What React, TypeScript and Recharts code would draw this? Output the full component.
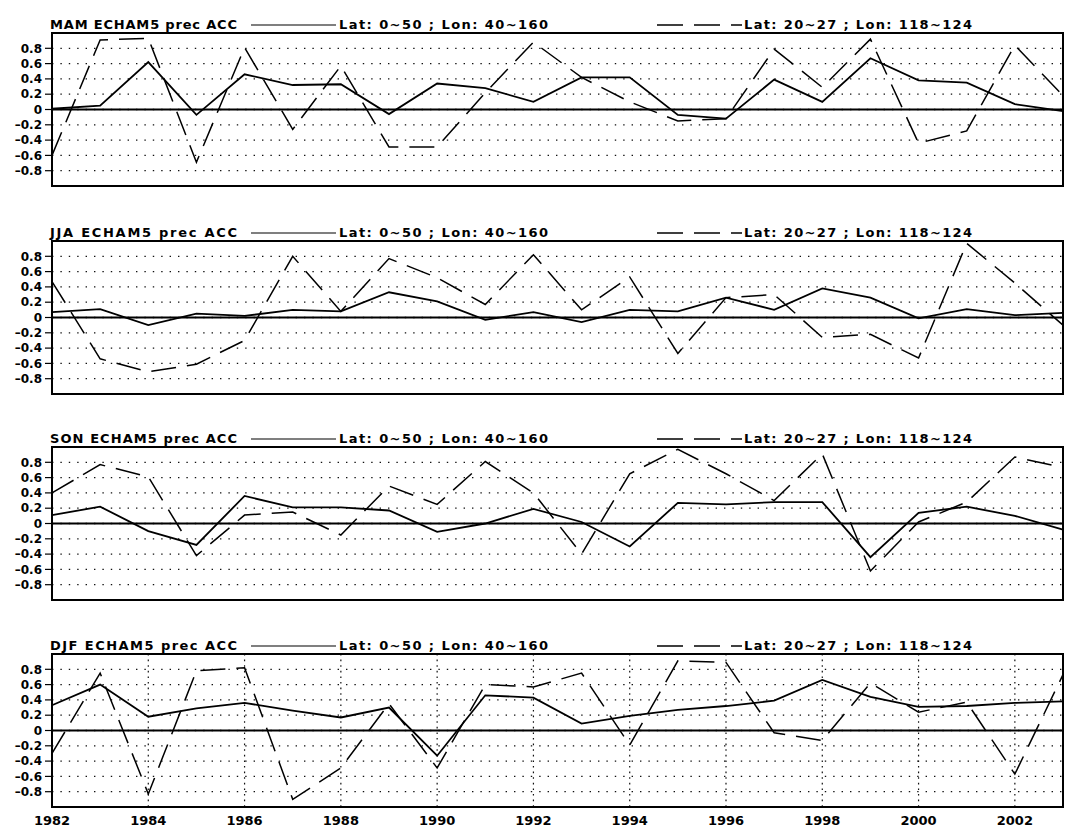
import React from 'react';
import { LineChart, Line, XAxis, YAxis, CartesianGrid, ReferenceLine, ReferenceArea } from 'recharts';

const years = [1982, 1983, 1984, 1985, 1986, 1987, 1988, 1989, 1990, 1991, 1992, 1993, 1994, 1995, 1996, 1997, 1998, 1999, 2000, 2001, 2002, 2003];
const xTicks = [1982, 1984, 1986, 1988, 1990, 1992, 1994, 1996, 1998, 2000, 2002];
const yTicks = [-0.8, -0.6, -0.4, -0.2, 0, 0.2, 0.4, 0.6, 0.8];
const seasons = ['MAM', 'JJA', 'SON', 'DJF'];
const titleSuffix = ' ECHAM5 prec ACC';
const legendA = 'Lat: 0~50 ; Lon: 40~160';
const legendB = 'Lat: 20~27 ; Lon: 118~124';

// solid: Lat 0~50 ; Lon 40~160   dashed: Lat 20~27 ; Lon 118~124
const mamA = [0.01, 0.05, 0.62, -0.07, 0.46, 0.32, 0.33, -0.06, 0.34, 0.28, 0.1, 0.42, 0.42, -0.07, -0.12, 0.39, 0.1, 0.67, 0.38, 0.35, 0.07, -0.02];
const mamB = [-0.6, 0.91, 0.93, -0.69, 0.81, -0.26, 0.57, -0.49, -0.49, 0.22, 0.88, 0.42, 0.1, -0.15, -0.12, 0.79, 0.29, 0.92, -0.44, -0.28, 0.84, 0.18];
const jjaA = [0.07, 0.11, -0.1, 0.05, 0.02, 0.1, 0.08, 0.33, 0.21, -0.03, 0.07, -0.06, 0.1, 0.08, 0.26, 0.1, 0.38, 0.26, -0.01, 0.11, 0.03, 0.06];
const jjaB = [0.47, -0.54, -0.71, -0.61, -0.3, 0.8, 0.08, 0.77, 0.52, 0.17, 0.82, 0.1, 0.53, -0.47, 0.26, 0.3, -0.26, -0.22, -0.53, 0.97, 0.45, -0.1];
const sonA = [0.11, 0.22, -0.1, -0.28, 0.36, 0.21, 0.21, 0.17, -0.11, 0.0, 0.19, 0.02, -0.3, 0.27, 0.25, 0.28, 0.28, -0.44, 0.14, 0.22, 0.1, -0.08];
const sonB = [0.4, 0.77, 0.61, -0.42, 0.11, 0.15, -0.15, 0.49, 0.25, 0.81, 0.4, -0.4, 0.65, 0.97, 0.65, 0.3, 0.91, -0.62, 0.02, 0.28, 0.87, 0.73];
const djfA = [0.33, 0.6, 0.18, 0.29, 0.36, 0.26, 0.17, 0.3, -0.33, 0.46, 0.43, 0.09, 0.19, 0.27, 0.32, 0.39, 0.66, 0.44, 0.31, 0.32, 0.36, 0.38];
const djfB = [-0.3, 0.75, -0.83, 0.78, 0.82, -0.9, -0.49, 0.35, -0.49, 0.6, 0.57, 0.75, -0.19, 0.91, 0.89, -0.03, -0.13, 0.62, 0.24, 0.37, -0.57, 0.73];

const seriesA = [mamA, jjaA, sonA, djfA];
const seriesB = [mamB, jjaB, sonB, djfB];

const W = 1065;
const H = 831;
const PLOT_LEFT = 52;
const PLOT_H = 153;
const TOP_M = 30;
const panelTops = [33, 241, 447, 654];
const FONT = '"DejaVu Sans", sans-serif';

const fmtY = (v: number) => (v === 0 ? '0' : v < 0 ? '\u2013' + Math.abs(v).toFixed(1) : v.toFixed(1));

function Panel({ idx }: { idx: number }) {
  const data = years.map((y, i) => ({ year: y, a: seriesA[idx][i], b: seriesB[idx][i] }));
  const isBottom = idx === 3;
  const xH = isBottom ? 24 : 0;
  const height = TOP_M + PLOT_H + (isBottom ? xH : 6);
  return (
    <div style={{ position: 'absolute', left: 0, top: panelTops[idx] - TOP_M }}>
      <LineChart width={W} height={height} data={data} margin={{ top: TOP_M, right: 2, bottom: isBottom ? 0 : 6, left: 0 }}>
        <CartesianGrid horizontal={true} vertical={false} stroke="#111" strokeWidth={1.3} strokeDasharray="1.4 7" />
        {isBottom && <CartesianGrid horizontal={false} vertical={true} stroke="#111" strokeWidth={1.2} strokeDasharray="1.6 4" />}
        <XAxis
          dataKey="year"
          type="number"
          domain={[1982, 2003]}
          ticks={xTicks}
          interval={0}
          hide={!isBottom}
          height={xH}
          axisLine={false}
          tickLine={false}
          tickMargin={3}
          tick={{ fontFamily: FONT, fontSize: 13, fontWeight: 'bold', fill: '#000' }}
        />
        <YAxis
          type="number"
          domain={[-1, 1]}
          ticks={yTicks}
          interval={0}
          width={PLOT_LEFT}
          tickSize={7}
          tickMargin={3}
          tickFormatter={fmtY}
          axisLine={{ stroke: '#000', strokeWidth: 2 }}
          tickLine={{ stroke: '#000', strokeWidth: 1.2 }}
          tick={{ fontFamily: FONT, fontSize: 12, fontWeight: 'bold', fill: '#000' }}
        />
        <ReferenceLine y={0} stroke="#000" strokeWidth={1.8} />
        <ReferenceArea x1={1982} x2={2003} y1={-1} y2={1} fill="none" fillOpacity={0} stroke="#000" strokeWidth={2} ifOverflow="visible" />
        <Line type="linear" dataKey="a" stroke="#000" strokeWidth={1.8} dot={false} isAnimationActive={false} />
        <Line type="linear" dataKey="b" stroke="#000" strokeWidth={1.5} strokeDasharray="25 11" dot={false} isAnimationActive={false} />
      </LineChart>
    </div>
  );
}

function Headers() {
  return (
    <svg width={W} height={H} style={{ position: 'absolute', left: 0, top: 0, pointerEvents: 'none' }}>
      {seasons.map((s, i) => {
        const t = panelTops[i];
        return (
          <g key={s} fontFamily={FONT} fontSize={13} fontWeight="bold" fill="#000">
            <text x={50} y={t - 4} textLength={187} lengthAdjust="spacing">{s + titleSuffix}</text>
            <line x1={251} x2={336} y1={t - 8} y2={t - 8} stroke="#000" strokeWidth={1.2} />
            <text x={339} y={t - 4} textLength={209} lengthAdjust="spacing">{legendA}</text>
            <line x1={657} x2={742} y1={t - 8} y2={t - 8} stroke="#000" strokeWidth={1.4} strokeDasharray="26 11" />
            <text x={744} y={t - 4} textLength={228} lengthAdjust="spacing">{legendB}</text>
          </g>
        );
      })}
    </svg>
  );
}

export default function App() {
  return (
    <div style={{ position: 'absolute', left: 0, top: 0, width: W, height: H, background: '#fff', overflow: 'hidden' }}>
      {[0, 1, 2, 3].map((i) => (
        <Panel key={i} idx={i} />
      ))}
      <Headers />
    </div>
  );
}
